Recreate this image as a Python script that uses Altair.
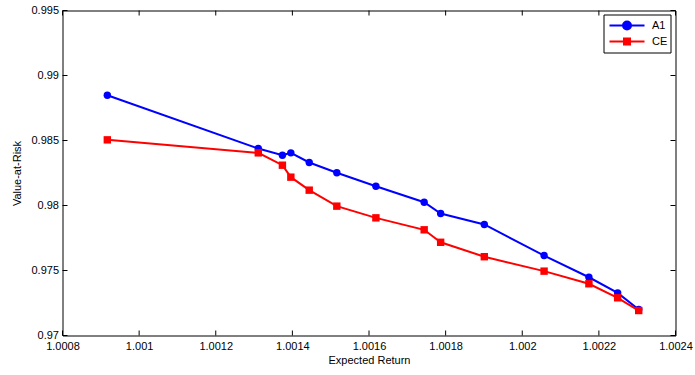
import altair as alt
import pandas as pd

# ---- data ----
expected_return = [1.000917, 1.001311, 1.001374, 1.001396, 1.001444, 1.001516, 1.001618,
                   1.001744, 1.001787, 1.001901, 1.002057, 1.002174, 1.002249, 1.002304]
var_a1 = [0.98848, 0.98438, 0.98387, 0.98405, 0.98331, 0.98252, 0.98148,
          0.98025, 0.97938, 0.97854, 0.97615, 0.97448, 0.97328, 0.97200]
var_ce = [0.98505, 0.98405, 0.98310, 0.98218, 0.98118, 0.97995, 0.97905,
          0.97813, 0.97717, 0.97606, 0.97495, 0.97398, 0.97290, 0.97192]
series_names = ["A1", "CE"]
series_colors = ["#0000ff", "#ff0000"]
marker_shapes = ["circle", "square"]
x_ticks = [1.0008, 1.001, 1.0012, 1.0014, 1.0016, 1.0018, 1.002, 1.0022, 1.0024]
y_ticks = [0.97, 0.975, 0.98, 0.985, 0.99, 0.995]
x_title = "Expected Return"
y_title = "Value-at-Risk"

W, H = 613, 325
FONT = "Liberation Sans"
TICK = 5

rows = []
for name, vals in zip(series_names, [var_a1, var_ce]):
    for xv, yv in zip(expected_return, vals):
        rows.append({"ret": xv, "var": yv, "series": name})
df = pd.DataFrame(rows)

xscale = alt.Scale(domain=[x_ticks[0], x_ticks[-1]], nice=False, zero=False)
yscale = alt.Scale(domain=[y_ticks[0], y_ticks[-1]], nice=False, zero=False)

common_axis = dict(ticks=False, tickSize=0, grid=False, labelFlush=False, labelOverlap=False,
                   labelFont=FONT, labelFontSize=11, labelColor="black",
                   titleFont=FONT, titleFontSize=11, titleFontWeight="normal", titleColor="black",
                   domain=False, format="~g")
xaxis = alt.Axis(values=x_ticks, labelPadding=5, titlePadding=3, **common_axis)
yaxis = alt.Axis(values=y_ticks, labelPadding=4, titlePadding=8, **common_axis)


def X(field):
    return alt.X(field, scale=xscale, axis=xaxis, title=x_title)


def Y(field):
    return alt.Y(field, scale=yscale, axis=yaxis, title=y_title)


base = alt.Chart(df)
layers = []

for name, col, shp in zip(series_names, series_colors, marker_shapes):
    sub = base.transform_filter(alt.datum.series == name)
    layers.append(sub.mark_line(color=col, strokeWidth=2).encode(x=X("ret:Q"), y=Y("var:Q")))
    layers.append(sub.mark_point(shape=shp, filled=True, color=col, size=55, opacity=1)
                  .encode(x=X("ret:Q"), y=Y("var:Q")))

# inward tick marks on all four sides
xt = alt.Chart(pd.DataFrame({"xt": x_ticks}))
yt = alt.Chart(pd.DataFrame({"yt": y_ticks}))
layers.append(xt.mark_rule(color="black", strokeWidth=1).encode(x=X("xt:Q"), y=alt.value(H), y2=alt.value(H - TICK)))
layers.append(xt.mark_rule(color="black", strokeWidth=1).encode(x=X("xt:Q"), y=alt.value(0), y2=alt.value(TICK)))
layers.append(yt.mark_rule(color="black", strokeWidth=1).encode(y=Y("yt:Q"), x=alt.value(0), x2=alt.value(TICK)))
layers.append(yt.mark_rule(color="black", strokeWidth=1).encode(y=Y("yt:Q"), x=alt.value(W - TICK), x2=alt.value(W)))

# legend (line + marker symbols)
R = 7.0
path_circle = "M-2.5,0H2.5M-0.57,0A0.57,0.57,0,1,1,0.57,0A0.57,0.57,0,1,1,-0.57,0Z"
path_square = "M-2.5,0H2.5M-0.43,-0.43H0.43V0.43H-0.43Z"
leg = alt.Legend(title=None, orient="none", legendX=541, legendY=4,
                 symbolSize=R * R * 4, symbolStrokeWidth=2, symbolOffset=12.5,
                 labelFont=FONT, labelFontSize=11, labelColor="black", labelOffset=17,
                 padding=3, rowPadding=0, strokeColor="black", fillColor="white")
legend_layer = base.transform_filter("false").mark_point(filled=True, strokeWidth=2, opacity=1).encode(
    x=X("ret:Q"),
    y=Y("var:Q"),
    color=alt.Color("series:N", scale=alt.Scale(domain=series_names, range=series_colors), legend=leg),
    stroke=alt.Stroke("series:N", scale=alt.Scale(domain=series_names, range=series_colors), legend=leg),
    shape=alt.Shape("series:N", scale=alt.Scale(domain=series_names, range=[path_circle, path_square]), legend=leg),
)
layers.append(legend_layer)

chart = alt.layer(*layers).properties(
    width=W, height=H,
    background="white",
    autosize=alt.AutoSizeParams(type="none"),
    padding={"left": 62.5, "top": 10.5, "right": 19.5, "bottom": 39.5},
).configure_view(stroke="black", strokeWidth=1)

chart.save("out.html", embed_options={"renderer": "svg", "actions": False})
